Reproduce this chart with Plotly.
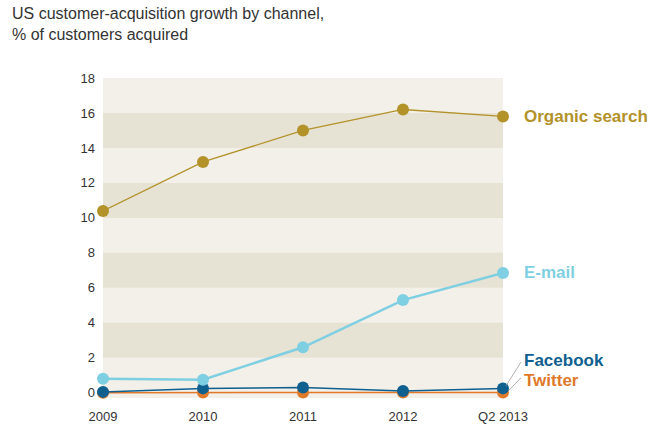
import plotly.graph_objects as go

categories = ["2009", "2010", "2011", "2012", "Q2 2013"]
organic = [10.4, 13.2, 15.0, 16.2, 15.8]
email = [0.8, 0.75, 2.6, 5.3, 6.85]
facebook = [0.05, 0.25, 0.3, 0.1, 0.25]
twitter = [0.0, 0.02, 0.02, 0.02, 0.02]
y_ticks = [0, 2, 4, 6, 8, 10, 12, 14, 16, 18]

C_ORG = "#b3922a"
C_EMAIL = "#7fcfe2"
C_FB = "#0f5f8f"
C_TW = "#e07a2a"
FONT = "Liberation Sans, Arial, sans-serif"
Y_MIN, Y_MAX = -0.3, 18

x = list(range(len(categories)))
fig = go.Figure()

def add(vals, color, width, size):
    fig.add_trace(go.Scatter(
        x=x, y=vals, mode="lines+markers",
        line=dict(color=color, width=width),
        marker=dict(color=color, size=size),
        cliponaxis=False, hoverinfo="skip", showlegend=False))

add(twitter, C_TW, 1.5, 12)
add(facebook, C_FB, 1.5, 12)
add(email, C_EMAIL, 2.5, 12)
add(organic, C_ORG, 1.3, 12)

shapes = []
for lo in [2, 6, 10, 14]:
    shapes.append(dict(type="rect", xref="paper", yref="y", x0=0, x1=1,
                       y0=lo, y1=lo + 2, fillcolor="#e7e3d4", line_width=0, layer="below"))

def py(v):
    return (v - Y_MIN) / (Y_MAX - Y_MIN)

n = len(categories) - 1
# leader lines for Facebook / Twitter (paper coords so they are not clipped)
shapes.append(dict(type="line", xref="paper", yref="paper", x0=4.03 / n, y0=py(0.4),
                   x1=4.18 / n, y1=py(1.75), line=dict(color="#a8a8a8", width=0.9)))
shapes.append(dict(type="line", xref="paper", yref="paper", x0=4.06 / n, y0=py(0.15),
                   x1=4.18 / n, y1=py(0.85), line=dict(color="#a8a8a8", width=0.9)))

annotations = [
    dict(text="US customer-acquisition growth by channel,<br>% of customers acquired",
         xref="paper", yref="paper", x=-0.233, y=1.0, xanchor="left", yanchor="bottom",
         yshift=33, align="left", showarrow=False,
         font=dict(family=FONT, size=16, color="#333333")),
]
labels = [("Organic search", organic[-1], C_ORG),
          ("E-mail", email[-1], C_EMAIL),
          ("Facebook", 1.83, C_FB),
          ("Twitter", 0.69, C_TW)]
for txt, yv, col in labels:
    annotations.append(dict(text="<b>" + txt + "</b>", xref="x", yref="y", x=4, y=yv,
                            xanchor="left", yanchor="middle", xshift=19, showarrow=False,
                            font=dict(family=FONT, size=17, color=col)))

fig.update_layout(
    width=657, height=438,
    margin=dict(l=103, r=154, t=78, b=40),
    paper_bgcolor="white", plot_bgcolor="#f2f0e9",
    font=dict(family=FONT, size=13, color="#333333"),
    shapes=shapes, annotations=annotations,
    xaxis=dict(range=[0, 4], tickmode="array", tickvals=x, ticktext=categories,
               showgrid=False, zeroline=False, showline=False, ticks="",
               ticklabelstandoff=9, tickfont=dict(size=13, color="#333333")),
    yaxis=dict(range=[Y_MIN, Y_MAX], tickmode="array", tickvals=y_ticks,
               showgrid=False, zeroline=False, showline=False, ticks="",
               ticklabelstandoff=7, tickfont=dict(size=13, color="#333333")),
)

fig.write_html("out.html", config={"displayModeBar": False},
               post_script="document.body.style.margin='0';")
